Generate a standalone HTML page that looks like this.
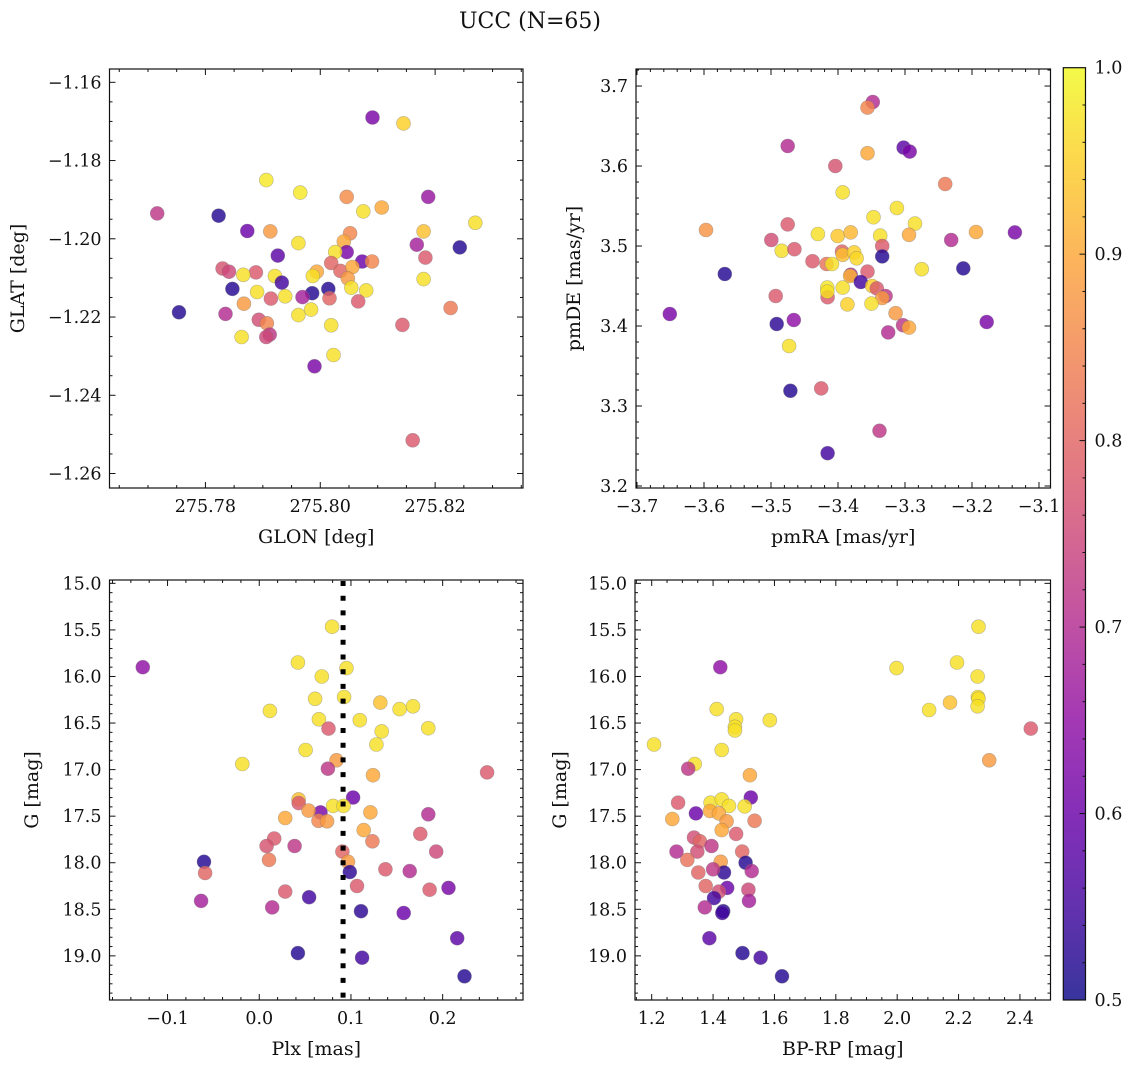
<!DOCTYPE html>
<html><head><meta charset="utf-8"><style>
html,body{margin:0;padding:0;background:#fff;}
svg text{font-family:"DejaVu Serif","Liberation Serif",serif;fill:#111;}
</style></head><body>
<svg id="fig" width="1136" height="1067" viewBox="0 0 1136 1067" xmlns="http://www.w3.org/2000/svg">
<text x="530" y="28" font-size="22" text-anchor="middle">UCC (N=65)</text>
</svg>
<script>
// ---------- Panel 1: GLON / GLAT ----------
const glon1 = [275.7716,275.7823,275.7873,275.7913,275.7906,275.7965,275.8091,275.8145,275.8046,275.8075,275.8107,275.8188,275.8270,275.8180,275.8243,275.8168,275.8183,275.8180,275.8227,275.8143,275.8161,275.7962,275.8052,275.8041,275.8046,275.8026,275.8073,275.8090,275.8019,275.8035,275.8056,275.8048,275.8054,275.8080,275.8066,275.7994,275.7987,275.8014,275.8016,275.7986,275.7969,275.7984,275.7962,275.8019,275.8023,275.7990,275.7926,275.7921,275.7933,275.7939,275.7914,275.7890,275.7888,275.7866,275.7830,275.7841,275.7847,275.7867,275.7754,275.7835,275.7893,275.7907,275.7912,275.7906,275.7863];
const glat1 = [-1.1935,-1.1941,-1.1980,-1.1981,-1.1850,-1.1882,-1.1690,-1.1705,-1.1893,-1.1930,-1.1920,-1.1893,-1.1959,-1.1981,-1.2022,-1.2015,-1.2048,-1.2103,-1.2177,-1.2220,-1.2515,-1.2011,-1.1986,-1.2007,-1.2034,-1.2034,-1.2058,-1.2058,-1.2062,-1.2082,-1.2072,-1.2101,-1.2125,-1.2132,-1.2160,-1.2084,-1.2095,-1.2128,-1.2152,-1.2139,-1.2149,-1.2181,-1.2195,-1.2221,-1.2297,-1.2326,-1.2043,-1.2095,-1.2112,-1.2147,-1.2153,-1.2136,-1.2086,-1.2092,-1.2076,-1.2084,-1.2128,-1.2166,-1.2188,-1.2192,-1.2207,-1.2216,-1.2245,-1.2251,-1.2251];
const prob1 = [0.72,0.52,0.6,0.88,0.98,0.98,0.62,0.95,0.86,0.97,0.9,0.66,0.97,0.93,0.52,0.68,0.78,0.97,0.83,0.78,0.78,0.97,0.85,0.9,0.62,0.97,0.6,0.85,0.8,0.8,0.9,0.88,0.97,0.97,0.78,0.9,0.97,0.52,0.8,0.52,0.68,0.97,0.97,0.97,0.97,0.62,0.58,0.97,0.55,0.97,0.78,0.97,0.78,0.97,0.77,0.75,0.52,0.88,0.52,0.7,0.76,0.85,0.72,0.75,0.97];
const xt1 = ["275.78","275.80","275.82"];
const yt1 = ["−1.16","−1.18","−1.20","−1.22","−1.24","−1.26"];
// ---------- Panel 2: pmRA / pmDE ----------
const pmra2 = [-3.348,-3.356,-3.475,-3.302,-3.293,-3.356,-3.404,-3.240,-3.393,-3.312,-3.347,-3.285,-3.597,-3.194,-3.136,-3.475,-3.4995,-3.231,-3.430,-3.4005,-3.381,-3.337,-3.294,-3.334,-3.334,-3.484,-3.465,-3.438,-3.394,-3.393,-3.376,-3.372,-3.417,-3.409,-3.569,-3.213,-3.275,-3.356,-3.381,-3.382,-3.366,-3.393,-3.416,-3.4155,-3.416,-3.349,-3.342,-3.329,-3.334,-3.386,-3.350,-3.314,-3.651,-3.493,-3.4915,-3.466,-3.178,-3.303,-3.294,-3.325,-3.473,-3.471,-3.425,-3.338,-3.4155];
const pmde2 = [3.680,3.673,3.625,3.623,3.618,3.616,3.600,3.5775,3.567,3.5475,3.536,3.528,3.520,3.5175,3.517,3.527,3.5075,3.5075,3.515,3.5125,3.517,3.513,3.514,3.500,3.487,3.494,3.496,3.481,3.493,3.489,3.492,3.4846,3.4775,3.4775,3.465,3.472,3.471,3.468,3.464,3.4625,3.455,3.448,3.448,3.436,3.443,3.450,3.447,3.4375,3.435,3.427,3.428,3.416,3.415,3.4375,3.4025,3.4075,3.405,3.401,3.398,3.392,3.375,3.319,3.322,3.269,3.241];
const prob2 = [0.7,0.85,0.7,0.58,0.62,0.9,0.77,0.83,0.97,0.97,0.97,0.97,0.87,0.9,0.62,0.78,0.76,0.7,0.97,0.94,0.92,0.97,0.9,0.78,0.52,0.97,0.78,0.78,0.8,0.93,0.95,0.96,0.82,0.97,0.52,0.52,0.97,0.78,0.7,0.92,0.55,0.97,0.98,0.78,0.97,0.95,0.78,0.72,0.88,0.95,0.97,0.88,0.62,0.78,0.53,0.65,0.62,0.72,0.9,0.7,0.97,0.52,0.78,0.72,0.55];
const xt2 = ["−3.7","−3.6","−3.5","−3.4","−3.3","−3.2","−3.1"];
const yt2 = ["3.2","3.3","3.4","3.5","3.6","3.7"];
// ---------- Panel 3: Plx / G ----------
const plx3 = [-0.127,0.0794,0.0421,0.0951,0.0682,0.0609,0.0925,0.132,0.153,0.1676,0.0116,0.065,0.1096,0.0755,0.1843,0.1335,0.1277,0.0505,0.0842,-0.0185,0.0748,0.124,0.2485,0.1023,0.0429,0.043,0.0805,0.0919,0.0668,0.0538,0.1212,0.1843,0.0283,0.0646,0.074,0.1139,0.1756,0.1234,0.0163,0.008,0.0385,0.0907,0.193,0.0106,0.0968,-0.0602,-0.0591,0.0987,0.1375,0.164,0.1066,0.2064,0.0283,0.1857,0.0544,-0.0634,0.0141,0.111,0.1575,0.2159,0.0421,0.1121,0.2238];
const g3 = [15.90,15.465,15.85,15.91,16.00,16.24,16.22,16.28,16.35,16.32,16.37,16.46,16.47,16.56,16.555,16.59,16.73,16.79,16.90,16.94,16.99,17.06,17.03,17.30,17.32,17.36,17.39,17.39,17.46,17.44,17.46,17.48,17.52,17.55,17.555,17.65,17.69,17.77,17.74,17.82,17.82,17.88,17.88,17.97,17.99,17.99,18.11,18.10,18.07,18.09,18.25,18.27,18.31,18.29,18.37,18.41,18.48,18.52,18.54,18.81,18.97,19.02,19.22];
const prob3 = [0.65,0.97,0.97,0.97,0.97,0.97,0.97,0.93,0.97,0.97,0.97,0.97,0.97,0.78,0.97,0.97,0.97,0.97,0.88,0.97,0.72,0.9,0.78,0.6,0.93,0.78,0.97,0.97,0.62,0.88,0.9,0.7,0.9,0.85,0.88,0.9,0.78,0.83,0.78,0.77,0.72,0.8,0.75,0.83,0.88,0.52,0.8,0.53,0.78,0.7,0.78,0.62,0.78,0.78,0.55,0.68,0.7,0.53,0.6,0.58,0.52,0.55,0.52];
const plxLine = [0.0914];
const xt3 = ["−0.1","0.0","0.1","0.2"];
const yt3 = ["15.0","15.5","16.0","16.5","17.0","17.5","18.0","18.5","19.0"];
// ---------- Panel 4: BP-RP / G ----------
const bprp4 = [2.265,2.195,1.998,2.262,2.263,2.265,2.262,2.172,2.104,2.4355,2.300,1.4235,1.412,1.585,1.475,1.471,1.471,1.428,1.2075,1.340,1.319,1.520,1.523,1.286,1.392,1.428,1.452,1.503,1.344,1.267,1.390,1.419,1.444,1.5355,1.428,1.475,1.338,1.357,1.395,1.3485,1.281,1.495,1.316,1.425,1.506,1.352,1.4355,1.526,1.40,1.376,1.446,1.419,1.515,1.403,1.517,1.373,1.433,1.430,1.388,1.496,1.555,1.6245];
const g4 = [15.465,15.85,15.91,16.00,16.22,16.24,16.32,16.28,16.36,16.56,16.90,15.90,16.35,16.47,16.46,16.54,16.58,16.79,16.73,16.94,16.99,17.06,17.30,17.355,17.355,17.32,17.39,17.395,17.47,17.53,17.445,17.47,17.555,17.55,17.65,17.69,17.73,17.77,17.82,17.88,17.88,17.88,17.97,17.99,18.00,18.105,18.105,18.09,18.07,18.25,18.27,18.31,18.29,18.38,18.41,18.48,18.52,18.54,18.81,18.97,19.02,19.22];
const prob4 = [0.97,0.97,0.97,0.97,0.97,0.97,0.97,0.93,0.97,0.78,0.88,0.65,0.97,0.97,0.97,0.97,0.97,0.97,0.97,0.97,0.72,0.9,0.6,0.78,0.97,0.97,0.97,0.97,0.6,0.9,0.9,0.9,0.88,0.83,0.9,0.78,0.76,0.8,0.72,0.76,0.7,0.8,0.82,0.88,0.52,0.8,0.53,0.7,0.72,0.8,0.6,0.76,0.75,0.55,0.68,0.7,0.52,0.55,0.58,0.52,0.55,0.52];
const xt4 = ["1.2","1.4","1.6","1.8","2.0","2.2","2.4"];
const yt4 = yt3;
const cbTicks = ["0.5","0.6","0.7","0.8","0.9","1.0"];

const NS = "http://www.w3.org/2000/svg";
const svg = document.getElementById('fig');
function mk(tag, attrs, parent){ const e=document.createElementNS(NS,tag); for(const k in attrs) e.setAttribute(k,attrs[k]); (parent||svg).appendChild(e); return e; }

const plasma = [[13,8,135],[65,4,157],[106,0,168],[143,13,164],[177,42,144],[204,71,120],[225,100,98],[242,132,75],[252,166,54],[252,206,37],[240,249,33]];
function cmap(p){ let t=(p-0.5)/0.5; t=Math.max(0,Math.min(1,t)); const f=t*10, i=Math.min(9,Math.floor(f)), r=f-i;
  const a=plasma[i], b=plasma[i+1]; return 'rgb('+a.map((v,k)=>Math.round(v+(b[k]-v)*r)).join(',')+')'; }

const TF = 17.5, LF = 19;
function panel(cfg){
  const {name,L,R,T,B,x0,x1,y0,y1,invert} = cfg;
  const sx = v => L + (v-x0)/(x1-x0)*(R-L);
  const sy = invert ? (v => T + (v-y0)/(y1-y0)*(B-T)) : (v => B - (v-y0)/(y1-y0)*(B-T));
  const g = mk('g',{});
  
  
  const pts = mk('g',{},g);
  
  
  for(let i=0;i<cfg.xs.length;i++){
    const c = mk('circle',{cx:sx(cfg.xs[i]).toFixed(1),cy:sy(cfg.ys[i]).toFixed(1),r:7,fill:cmap(cfg.ps[i]),'fill-opacity':0.82,stroke:'#777','stroke-opacity':0.5,'stroke-width':0.6},pts);
    
    
  }
  if(cfg.extra) cfg.extra(g,sx,sy);
  const fr = mk('rect',{x:L,y:T,width:R-L,height:B-T,fill:'none',stroke:'#111','stroke-width':1.2},g);
  
  
  const tk = mk('g',{stroke:'#111','stroke-width':1},g);
  
  
  const eps=1e-9;
  for(let v=Math.ceil(x0/cfg.xmin-eps)*cfg.xmin; v<=x1+eps; v+=cfg.xmin){
    const X=sx(v); if(X<L+0.5||X>R-0.5) continue;
    const maj = Math.abs(v/cfg.xmaj - Math.round(v/cfg.xmaj))<1e-6; const len = maj?6:3;
    mk('line',{x1:X,x2:X,y1:B,y2:B-len},tk); mk('line',{x1:X,x2:X,y1:T,y2:T+len},tk);
  }
  for(let v=Math.ceil(Math.min(y0,y1)/cfg.ymin-eps)*cfg.ymin; v<=Math.max(y0,y1)+eps; v+=cfg.ymin){
    const Y=sy(v); if(Y<T+0.5||Y>B-0.5) continue;
    const maj = Math.abs(v/cfg.ymaj - Math.round(v/cfg.ymaj))<1e-6; const len = maj?6:3;
    mk('line',{x1:L,x2:L+len,y1:Y,y2:Y},tk); mk('line',{x1:R,x2:R-len,y1:Y,y2:Y},tk);
  }
  cfg.xt.forEach(s=>{ const v=parseFloat(s.replace('−','-')); const X=sx(v); if(X<L-2||X>R+2) return;
    const t=mk('text',{x:X,y:B+24,'font-size':TF,'text-anchor':'middle'},g); t.textContent=s;
    
     });
  cfg.yt.forEach(s=>{ const v=parseFloat(s.replace('−','-')); const Y=sy(v); if(Y<T-2||Y>B+2) return;
    const t=mk('text',{x:L-8,y:Y+6,'font-size':TF,'text-anchor':'end'},g); t.textContent=s;
    
     });
  const xl=mk('text',{x:(L+R)/2,y:B+55,'font-size':LF,'text-anchor':'middle'},g); xl.textContent=cfg.xlab;
  
  
  const yl=mk('text',{x:cfg.ylx,y:(T+B)/2,'font-size':LF,'text-anchor':'middle',transform:'rotate(-90 '+cfg.ylx+' '+((T+B)/2)+')'},g); yl.textContent=cfg.ylab;
  
  
}

panel({name:'glon-glat',L:109.5,R:523,T:69,B:488,x0:275.7633,x1:275.8353,y0:-1.2637,y1:-1.1566,
  xs:glon1,ys:glat1,ps:prob1,xmin:0.005,xmaj:0.02,ymin:0.005,ymaj:0.02,xt:xt1,yt:yt1,xlab:'GLON [deg]',ylab:'GLAT [deg]',ylx:24});
panel({name:'pm',L:636,R:1050.5,T:69,B:488,x0:-3.7015,x1:-3.0828,y0:3.1975,y1:3.7213,
  xs:pmra2,ys:pmde2,ps:prob2,xmin:0.02,xmaj:0.1,ymin:0.02,ymaj:0.1,xt:xt2,yt:yt2,xlab:'pmRA [mas/yr]',ylab:'pmDE [mas/yr]',ylx:580});
panel({name:'plx-g',L:109.5,R:523,T:580,B:1000,x0:-0.1633,x1:0.2876,y0:14.964,y1:19.474,invert:true,
  xs:plx3,ys:g3,ps:prob3,xmin:0.02,xmaj:0.1,ymin:0.1,ymaj:0.5,xt:xt3,yt:yt3,xlab:'Plx [mas]',ylab:'G [mag]',ylx:38,
  extra:(g,sx,sy)=>{ plxLine.forEach(v=>{ const l=mk('line',{x1:sx(v),x2:sx(v),y1:581,y2:999,stroke:'#000','stroke-width':5,'stroke-dasharray':'5 9.7'},g);
    
     }); }});
panel({name:'cmd',L:635,R:1050.5,T:580,B:1000,x0:1.1456,x1:2.4996,y0:14.964,y1:19.474,invert:true,
  xs:bprp4,ys:g4,ps:prob4,xmin:0.05,xmaj:0.2,ymin:0.1,ymaj:0.5,xt:xt4,yt:yt4,xlab:'BP-RP [mag]',ylab:'G [mag]',ylx:566});

(function(){
  const L=1063.3,R=1085.5,T=67.7,B=1000;
  const defs=mk('defs',{}); const lg=mk('linearGradient',{id:'plasmaGrad',x1:0,y1:1,x2:0,y2:0},defs);
  for(let i=0;i<=20;i++){ const p=0.5+i*0.025; mk('stop',{offset:(i/20),'stop-color':cmap(p),'stop-opacity':0.82},lg); }
  const cb=mk('g',{});  
  mk('rect',{x:L,y:T,width:R-L,height:B-T,fill:'url(#plasmaGrad)',stroke:'#111','stroke-width':1.2},cb);
  const sy=v=>B-(v-0.5)/0.5*(B-T);
  for(let k=0;k<=25;k++){ const v=0.5+k*0.02; const Y=sy(v); const maj=(k%5===0);
    if(k>0&&k<25) mk('line',{x1:R,x2:R-(maj?6:3),y1:Y,y2:Y,stroke:'#111','stroke-width':1},cb); }
  cbTicks.forEach(s=>{ const t=mk('text',{x:R+9,y:sy(parseFloat(s))+6,'font-size':TF},cb); t.textContent=s;
    
     });
})();
</script>
</body></html>
